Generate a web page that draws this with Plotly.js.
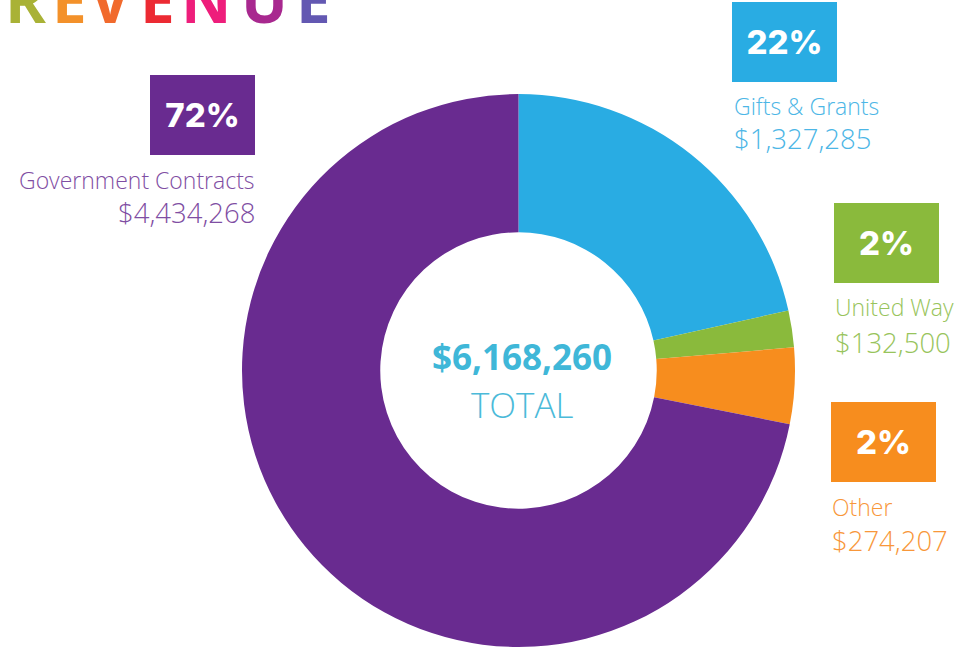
<!DOCTYPE html>
<html>
<head>
<meta charset="utf-8">
<script src="https://cdn.plot.ly/plotly-3.0.1.min.js"></script>
<style>html,body{margin:0;padding:0;background:#fff;}#chart{width:958px;height:649px;}</style>
</head>
<body>
<div id="chart"></div>
<script>
// ---- data ----
const categories = ['Gifts & Grants', 'United Way', 'Other', 'Government Contracts'];
const amounts = [1327285, 132500, 274207, 4434268];
const percentLabels = ['22%', '2%', '2%', '72%'];
const amountLabels = ['$1,327,285', '$132,500', '$274,207', '$4,434,268'];
const totalLabel = '$6,168,260';
const sliceColors = ['#29ace3', '#8aba3c', '#f78d1e', '#692b90'];
const textColors = ['#4cb6e6', '#98c45c', '#f8973a', '#7f4ea3'];
const titleLetters = ['R', 'E', 'V', 'E', 'N', 'U', 'E'];
const titleColors = ['#a9b236', '#f3912a', '#f16a2d', '#ec2a33', '#ee1e7b', '#a8288f', '#6358b2'];

// ---- layout helpers ----
const W = 958, H = 649;
const px = x => x / W;
const py = y => 1 - y / H;

const labelPos = [
  {box: [784.5, 42], name: [733, 106], amt: [733, 139], anchor: 'left'},
  {box: [886.5, 243.5], name: [834, 307], amt: [834, 342], anchor: 'left'},
  {box: [883.5, 442], name: [831, 507], amt: [831, 540], anchor: 'left'},
  {box: [202.5, 115], name: [256, 180], amt: [256, 213], anchor: 'right'}
];
const letterX = [25, 69, 110, 157, 206, 264, 313];

const annotations = [];
categories.forEach((c, i) => {
  const p = labelPos[i];
  annotations.push({
    xref: 'paper', yref: 'paper', x: px(p.box[0]), y: py(p.box[1]),
    xanchor: 'center', yanchor: 'middle', showarrow: false,
    text: percentLabels[i], width: 105, height: 80, bgcolor: sliceColors[i],
    borderpad: 0, borderwidth: 0,
    font: {family: 'Inter, Open Sans, sans-serif', size: 33, color: '#ffffff', weight: 800}
  });
  annotations.push({
    xref: 'paper', yref: 'paper', x: px(p.name[0]), y: py(p.name[1]),
    xanchor: p.anchor, yanchor: 'middle', showarrow: false, borderpad: 0,
    text: c, font: {family: 'Open Sans, sans-serif', size: 23, color: textColors[i], weight: 300}
  });
  annotations.push({
    xref: 'paper', yref: 'paper', x: px(p.amt[0]), y: py(p.amt[1]),
    xanchor: p.anchor, yanchor: 'middle', showarrow: false, borderpad: 0,
    text: amountLabels[i], font: {family: 'Open Sans, sans-serif', size: 27.5, color: textColors[i], weight: 300}
  });
});
annotations.push({
  xref: 'paper', yref: 'paper', x: px(522), y: py(356), xanchor: 'center', yanchor: 'middle',
  showarrow: false, text: totalLabel,
  font: {family: 'Open Sans, sans-serif', size: 35, color: '#3fb7d8', weight: 700}
});
annotations.push({
  xref: 'paper', yref: 'paper', x: px(522), y: py(404), xanchor: 'center', yanchor: 'middle',
  showarrow: false, text: 'TOTAL',
  font: {family: 'Open Sans, sans-serif', size: 35, color: '#4bbad9', weight: 300}
});
titleLetters.forEach((l, i) => {
  annotations.push({
    xref: 'paper', yref: 'paper', x: px(letterX[i]), y: 1, xanchor: 'center', yanchor: 'top',
    yshift: 45, showarrow: false, text: l,
    font: {family: 'Open Sans, sans-serif', size: 62, color: titleColors[i], weight: 700}
  });
});

const trace = {
  type: 'pie',
  labels: categories,
  values: amounts,
  hole: 0.5,
  sort: false,
  direction: 'clockwise',
  rotation: 0,
  marker: {colors: sliceColors, line: {width: 0}},
  textinfo: 'none',
  hoverinfo: 'skip',
  domain: {x: [242 / W, 795 / W], y: [1 - 647 / H, 1 - 94 / H]}
};

const layout = {
  width: W, height: H,
  margin: {l: 0, r: 0, t: 0, b: 0},
  paper_bgcolor: '#ffffff',
  showlegend: false,
  annotations: annotations
};

Plotly.newPlot('chart', [trace], layout, {displayModeBar: false, staticPlot: true});
</script>
</body>
</html>
